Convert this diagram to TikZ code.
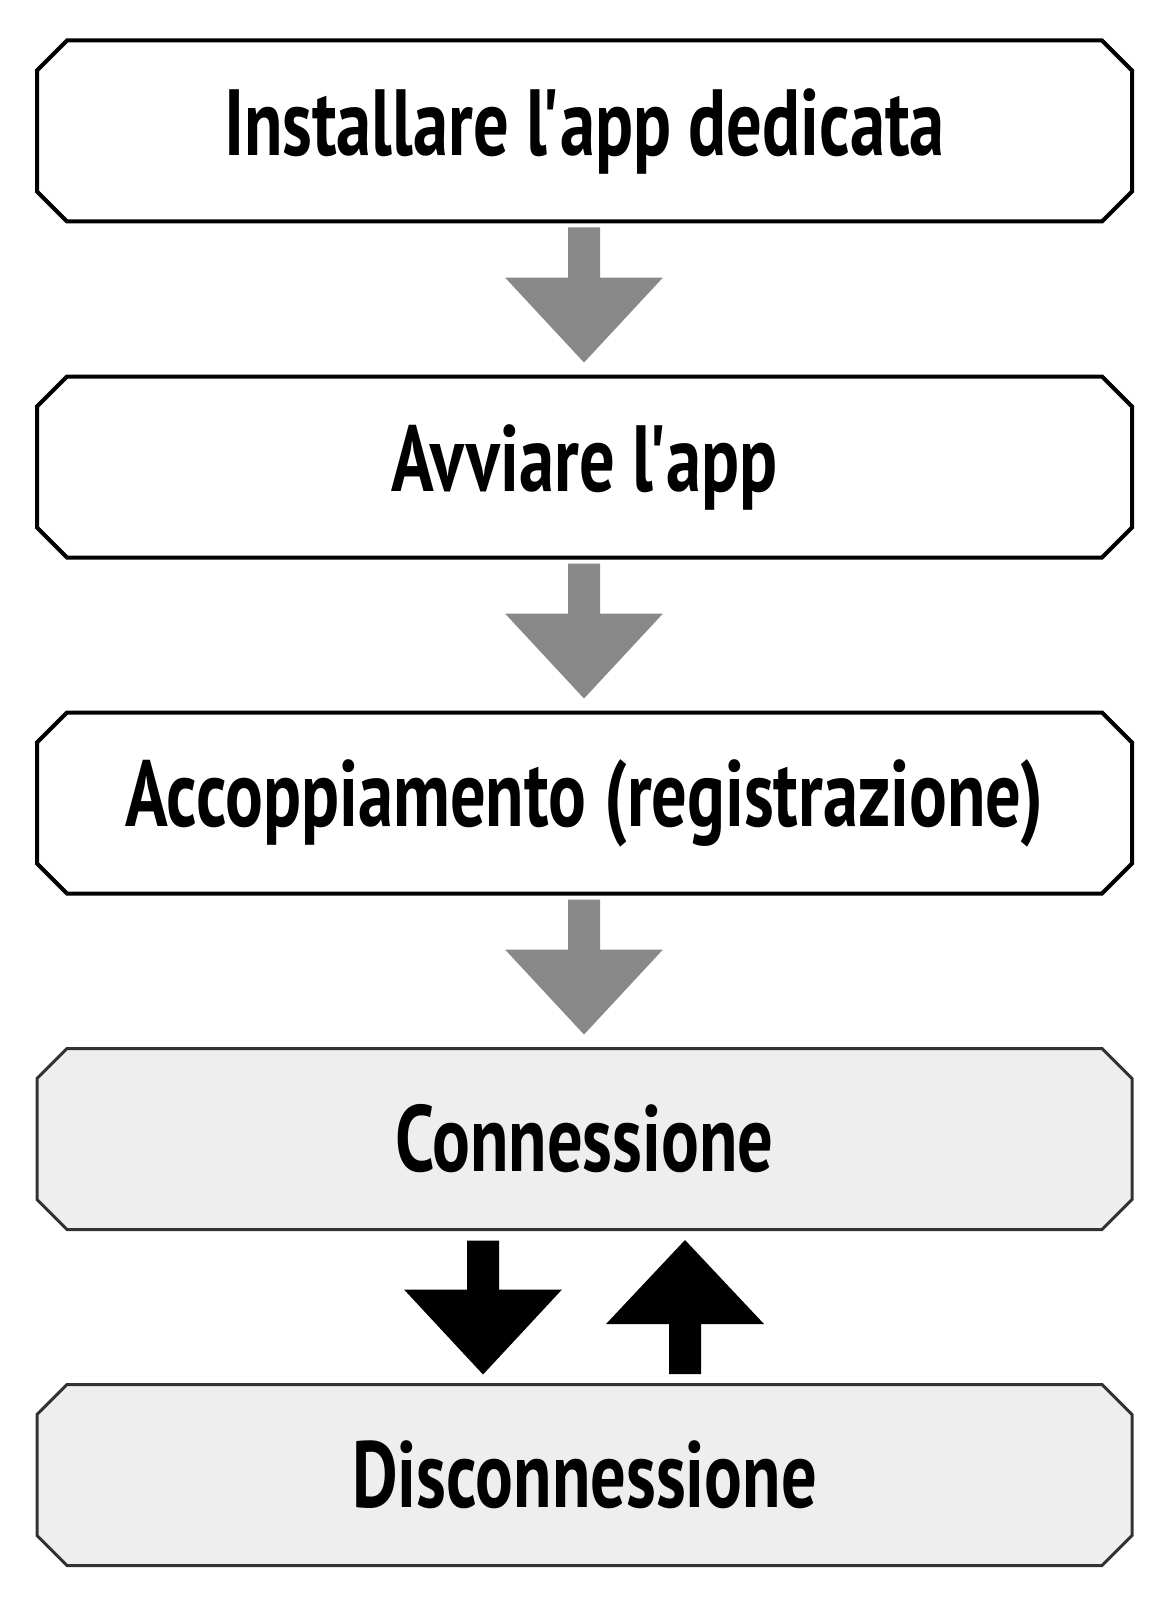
\documentclass[tikz,border=0pt]{standalone}
\usepackage{fontspec}
\usepackage{tikz}
\usetikzlibrary{shapes.misc,positioning,calc}
\newfontfamily\boxfont[UprightFont=* Bold,FakeStretch=0.75]{PT Sans}
\newcommand{\apos}{\kern-0.06em\textquotesingle\kern-0.06em}
\definecolor{arrowgray}{HTML}{888888}
\definecolor{boxgray}{HTML}{EEEEEE}
\definecolor{edgegray}{HTML}{333333}

\tikzset{
  stepbox/.style={chamfered rectangle,chamfered rectangle xsep=7.5pt,chamfered rectangle ysep=7.5pt,
    minimum width=547.5pt,minimum height=90.5pt,inner sep=0pt,outer sep=0pt,
    draw=black,line width=2pt,fill=white,font=\boxfont\fontsize{47}{50}\selectfont},
  linkbox/.style={stepbox,draw=edgegray,line width=1.5pt,fill=boxgray},
  grayarrow/.style={fill=arrowgray},
  blackarrow/.style={fill=black}
}

\begin{document}
\begin{tikzpicture}[line join=miter,x=0.5pt,y=-0.5pt]
\useasboundingbox (0,0) rectangle (1160,1605);

\node[stepbox] (inst) at (584.5,131) {Installare l\apos app dedicata};
\node[stepbox,below=77.5pt of inst] (avvia) {Avviare l\apos app};
\node[stepbox,below=77.5pt of avvia] (accop) {Accoppiamento (registrazione)};
\node[linkbox,below=77.5pt of accop] (conn) {Connessione};
\node[linkbox,below=77.5pt of conn] (disc) {Disconnessione};

% gray arrows between the steps
\foreach \a in {inst,avvia,accop}{
  \fill[grayarrow] ($(\a.south)+(-16.5,6)$) -- ++(32,0) -- ++(0,50) -- ++(63,0) -- ++(-79,85)
    -- ++(-79,-85) -- ++(63,0) -- cycle;
}

% connect / disconnect
\fill[blackarrow] ($(conn.south)+(-117.5,11)$) -- ++(32,0) -- ++(0,49) -- ++(63,0) -- ++(-79,85)
  -- ++(-79,-85) -- ++(63,0) -- cycle;
\fill[blackarrow] ($(disc.north)+(84.5,-10.5)$) -- ++(32,0) -- ++(0,-50) -- ++(63,0) -- ++(-79,-84)
  -- ++(-79,84) -- ++(63,0) -- cycle;
\end{tikzpicture}
\end{document}
